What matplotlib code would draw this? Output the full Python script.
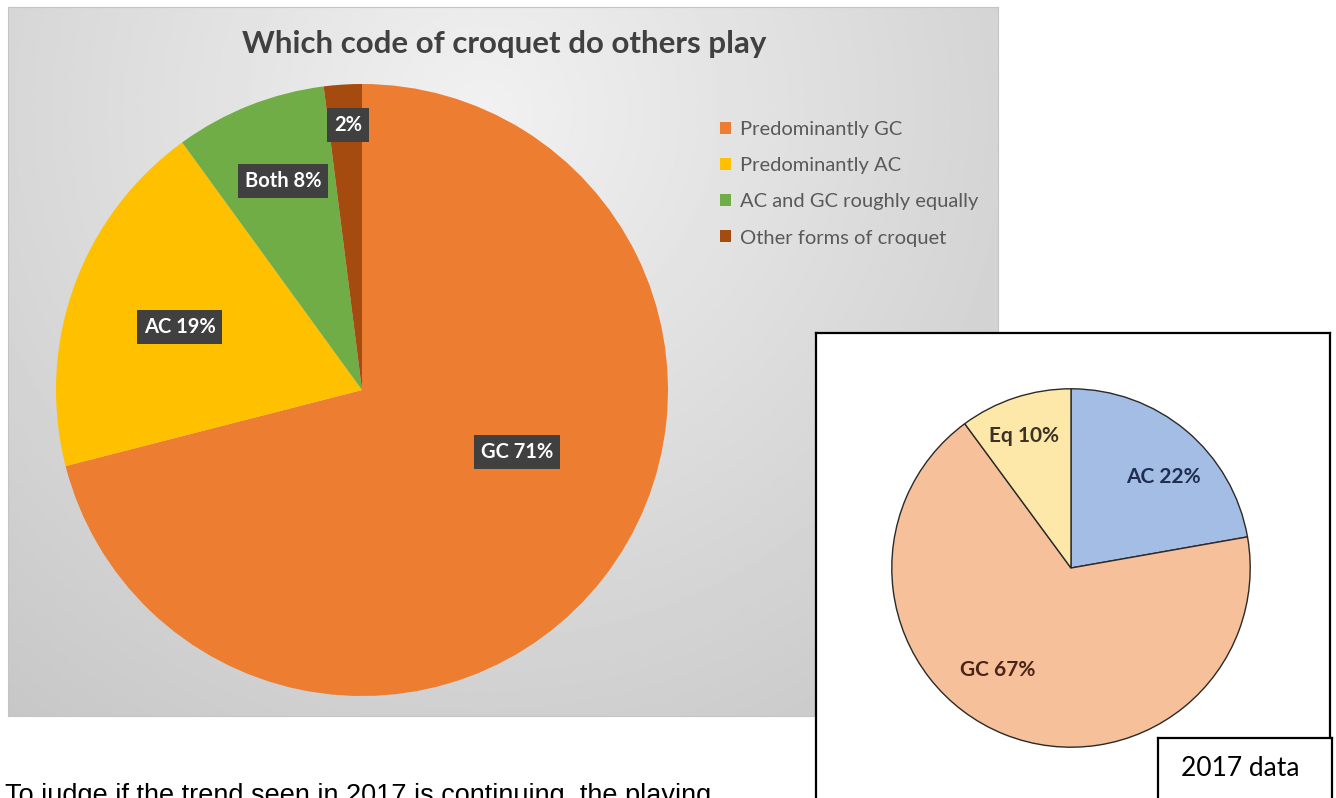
import matplotlib.pyplot as plt
import numpy as np

W, H = 1336, 798

# Current survey: which code do members play
codes = ["Predominantly GC", "Predominantly AC", "AC and GC roughly equally", "Other forms of croquet"]
code_tags = ["GC", "AC", "Both", ""]
code_share = [71, 19, 8, 2]
code_colors = ["#ED7D31", "#FFC000", "#70AD47", "#A64B10"]

# 2017 survey for comparison
tags_2017 = ["AC", "GC", "Eq"]
share_2017 = [22, 67, 10]
colors_2017 = ["#A4BDE4", "#F6C09A", "#FDE8AA"]
text_colors_2017 = ["#1F2D50", "#4A2416", "#3A3226"]

# label placement inside each pie (unit-radius coordinates)
main_label_pos = [(0.507, -0.203), (-0.595, 0.206), (-0.258, 0.683), (-0.046, 0.866)]
label_pos_2017 = [(0.514, 0.508), (-0.409, -0.569), (-0.26, 0.735)]

plt.rcParams["font.family"] = ["Lato", "DejaVu Sans"]


def px_axes(fig, x, y, w, h, **kw):
    # axes placed by pixel box measured from the top-left corner
    return fig.add_axes([x / W, 1 - (y + h) / H, w / W, h / H], **kw)


fig = plt.figure(figsize=(W / 100, H / 100), dpi=100, facecolor="white")

# grey gradient panel behind the main chart
bg = px_axes(fig, 8, 7, 990, 709)
yy, xx = np.mgrid[0:1:300j, 0:1:400j]
d = np.sqrt(((xx - 0.48) / 0.75) ** 2 + ((yy - 0.15) / 1.05) ** 2)
shade = 0.945 - 0.16 * np.clip(d, 0, 1.1)
bg.imshow(shade, cmap="gray", vmin=0, vmax=1, aspect="auto", extent=[0, 1, 1, 0])
bg.set_xticks([])
bg.set_yticks([])
for s in bg.spines.values():
    s.set_color("#C4C4C4")
    s.set_linewidth(0.8)

fig.text(504 / W, 1 - 44 / H, "Which code of croquet do others play",
         ha="center", va="center", fontsize=22.5, fontweight="bold", color="#404040")

# main pie
ax = px_axes(fig, 56, 84, 612, 612)
wedges, _ = ax.pie(code_share, colors=code_colors, startangle=90, counterclock=False,
                   wedgeprops=dict(linewidth=0))
ax.set_xlim(-1, 1)
ax.set_ylim(-1, 1)
ax.set_aspect("equal")
for tag, val, (lx, ly) in zip(code_tags, code_share, main_label_pos):
    txt = f"{tag} {val}%".strip()
    ax.text(lx, ly, txt, ha="center", va="center", color="white", fontsize=14.5,
            fontweight="bold",
            bbox=dict(boxstyle="square,pad=0.33", fc="#404040", ec="none"))

fig.legend(wedges, codes, loc="upper left", bbox_to_anchor=(702 / W, 1 - 103 / H),
           frameon=False, fontsize=14.5, labelcolor="#595959", handlelength=0.55,
           handleheight=0.55, handletextpad=0.45, labelspacing=0.95)

# 2017 inset box
box = px_axes(fig, 816, 333, 514, 480)
box.set_facecolor("white")
box.set_xticks([])
box.set_yticks([])
for s in box.spines.values():
    s.set_color("black")
    s.set_linewidth(1.6)

ax2 = px_axes(fig, 890, 387, 362, 362)
ax2.pie(share_2017, colors=colors_2017, startangle=90, counterclock=False,
        wedgeprops=dict(linewidth=1.0, edgecolor="#2a2a2a"))
ax2.set_xlim(-1.01, 1.01)
ax2.set_ylim(-1.01, 1.01)
ax2.set_aspect("equal")
for tag, val, col, (lx, ly) in zip(tags_2017, share_2017, text_colors_2017, label_pos_2017):
    ax2.text(lx, ly, f"{tag} {val}%", ha="center", va="center", color=col,
             fontsize=15, fontweight="bold")

tag_box = px_axes(fig, 1158, 738, 174, 80)
tag_box.set_facecolor("white")
tag_box.set_xticks([])
tag_box.set_yticks([])
for s in tag_box.spines.values():
    s.set_color("black")
    s.set_linewidth(1.6)
tag_box.text(0.47, 0.62, "2017 data", transform=tag_box.transAxes,
             ha="center", va="center", fontsize=19, color="black")

fig.text(5 / W, 1 - 803 / H, "To judge if the trend seen in 2017 is continuing, the playing",
         ha="left", va="baseline", fontsize=19.5, color="black",
         family=["Liberation Sans", "DejaVu Sans"])

fig.savefig("out.png", dpi=100, facecolor="white")
